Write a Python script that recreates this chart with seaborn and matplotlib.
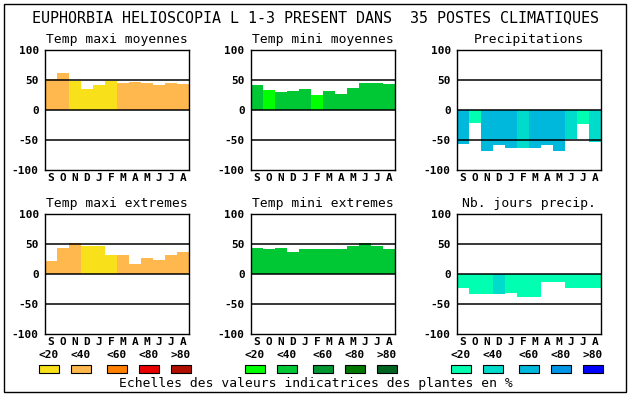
import matplotlib
matplotlib.use("Agg")
import matplotlib.pyplot as plt
import seaborn as sns
import pandas as pd
from matplotlib.patches import Rectangle

sns.set_theme(style="white")
plt.rcParams['font.family'] = ['DejaVu Sans Mono', 'DejaVu Sans']

W, H = 630, 394

# ---------------- data ----------------
months = ["S", "O", "N", "D", "J", "F", "M", "A", "M", "J", "J", "A"]
title = "EUPHORBIA HELIOSCOPIA L 1-3 PRESENT DANS  35 POSTES CLIMATIQUES"
panel_titles = ["Temp maxi moyennes", "Temp mini moyennes", "Precipitations",
                "Temp maxi extremes", "Temp mini extremes", "Nb. jours precip."]
yticks = [100, 50, 0, -50, -100]
scale_labels = ["<20", "<40", "<60", "<80", ">80"]
footer = "Echelles des valeurs indicatrices des plantes en %"

warm = ["#f8e11a", "#ffb84d", "#ff8000", "#e80000", "#b00e00"]
green = ["#00ff00", "#00c834", "#009632", "#007800", "#006420"]
blue = ["#00ffb0", "#00dccc", "#00b8dc", "#0096e6", "#0000ff"]

tmax_moy = [52, 62, 49, 35, 42, 48, 45, 47, 45, 42, 45, 43]
tmax_moy_cls = [1, 1, 0, 0, 0, 0, 1, 1, 1, 1, 1, 1]

tmin_moy = [42, 33, 30, 32, 35, 25, 32, 27, 37, 45, 45, 43]
tmin_moy_cls = [1, 0, 1, 1, 1, 0, 1, 1, 1, 1, 1, 1]

precip = [-56, -22, -68, -58, -64, -63, -63, -58, -68, -48, -24, -53]
precip_cls = [2, 0, 2, 2, 2, 1, 2, 2, 2, 1, 0, 1]

tmax_ext = [21, 44, 52, 47, 46, 31, 31, 17, 26, 24, 32, 37]
tmax_ext_cls = [1, 1, 1, 0, 0, 0, 1, 1, 1, 1, 1, 1]

tmin_ext = [44, 42, 44, 37, 42, 42, 42, 41, 47, 52, 46, 42]
tmin_ext_cls = [1, 1, 1, 1, 1, 1, 1, 1, 1, 1, 1, 1]

jours = [-24, -33, -34, -34, -31, -38, -38, -13, -14, -24, -23, -24]
jours_cls = [0, 0, 0, 1, 0, 0, 0, 0, 0, 0, 0, 0]

panels = [
    (tmax_moy, tmax_moy_cls, warm),
    (tmin_moy, tmin_moy_cls, green),
    (precip, precip_cls, blue),
    (tmax_ext, tmax_ext_cls, warm),
    (tmin_ext, tmin_ext_cls, green),
    (jours, jours_cls, blue),
]
group_palettes = [warm, green, blue]

# ---------------- layout (pixels) ----------------
col_x = [(45, 189), (251, 395), (457, 601)]
row_y = [(50, 170), (214, 334)]


def fx(x):
    return x / W


def fy(y):
    return 1 - y / H


fig = plt.figure(figsize=(W / 100, H / 100), dpi=100)
fig.patch.set_facecolor("white")

# outer border
fig.patches.append(Rectangle((fx(4), fy(392)), fx(622), 388 / H, fill=False,
                             edgecolor="black", linewidth=1.0,
                             transform=fig.transFigure, figure=fig))

fig.text(fx(315), fy(18), title, ha="center", va="center", fontsize=10.8,
         color="black")

for i, (vals, cls, pal) in enumerate(panels):
    r, c = divmod(i, 3)
    l, rr = col_x[c]
    t, b = row_y[r]
    ax = fig.add_axes([fx(l), fy(b), (rr - l) / W, (b - t) / H])
    pos = [str(k) for k in range(12)]
    df = pd.DataFrame({"pos": pos, "val": vals})
    palette = {p: pal[k] for p, k in zip(pos, cls)}
    sns.barplot(data=df, x="pos", y="val", hue="pos", palette=palette,
                order=pos, hue_order=pos, width=1, legend=False,
                saturation=1, linewidth=0, ax=ax, errorbar=None)
    ax.set_xlim(-0.5, 11.5)
    ax.set_ylim(-100, 100)
    ax.set_yticks(yticks)
    ax.set_yticklabels([str(v) for v in yticks], fontweight="bold", fontsize=8)
    ax.set_xticks(range(12))
    ax.set_xticklabels(months, fontweight="bold", fontsize=8)
    ax.tick_params(axis="both", length=0, colors="black")
    ax.tick_params(axis="y", pad=4.5)
    ax.tick_params(axis="x", pad=2.5)
    ax.set_xlabel("")
    ax.set_ylabel("")
    for yv in (50, 0, -50):
        ax.axhline(yv, color="black", linewidth=1.1, zorder=5)
    for s in ax.spines.values():
        s.set_visible(True)
        s.set_color("black")
        s.set_linewidth(1.0)
    ax.set_facecolor("white")
    fig.text(fx((l + rr) / 2), fy(t - 11), panel_titles[i], ha="center",
             va="center", fontsize=9.4, color="black")

# legend scales
box_offsets = [-6, 26, 62, 94, 126]
for c, pal in enumerate(group_palettes):
    l = col_x[c][0]
    for k, off in enumerate(box_offsets):
        x0 = l + off
        fig.patches.append(Rectangle((fx(x0), fy(373)), 20 / W, 8 / H,
                                     facecolor=pal[k], edgecolor="black",
                                     linewidth=0.8, transform=fig.transFigure,
                                     figure=fig))
        fig.text(fx(x0 + 10), fy(355), scale_labels[k], ha="center",
                 va="center", fontsize=8, fontweight="bold", color="black")

fig.text(fx(316), fy(383), footer, ha="center", va="center", fontsize=9.4,
         color="black")

fig.savefig("out.png", dpi=100, facecolor="white")
